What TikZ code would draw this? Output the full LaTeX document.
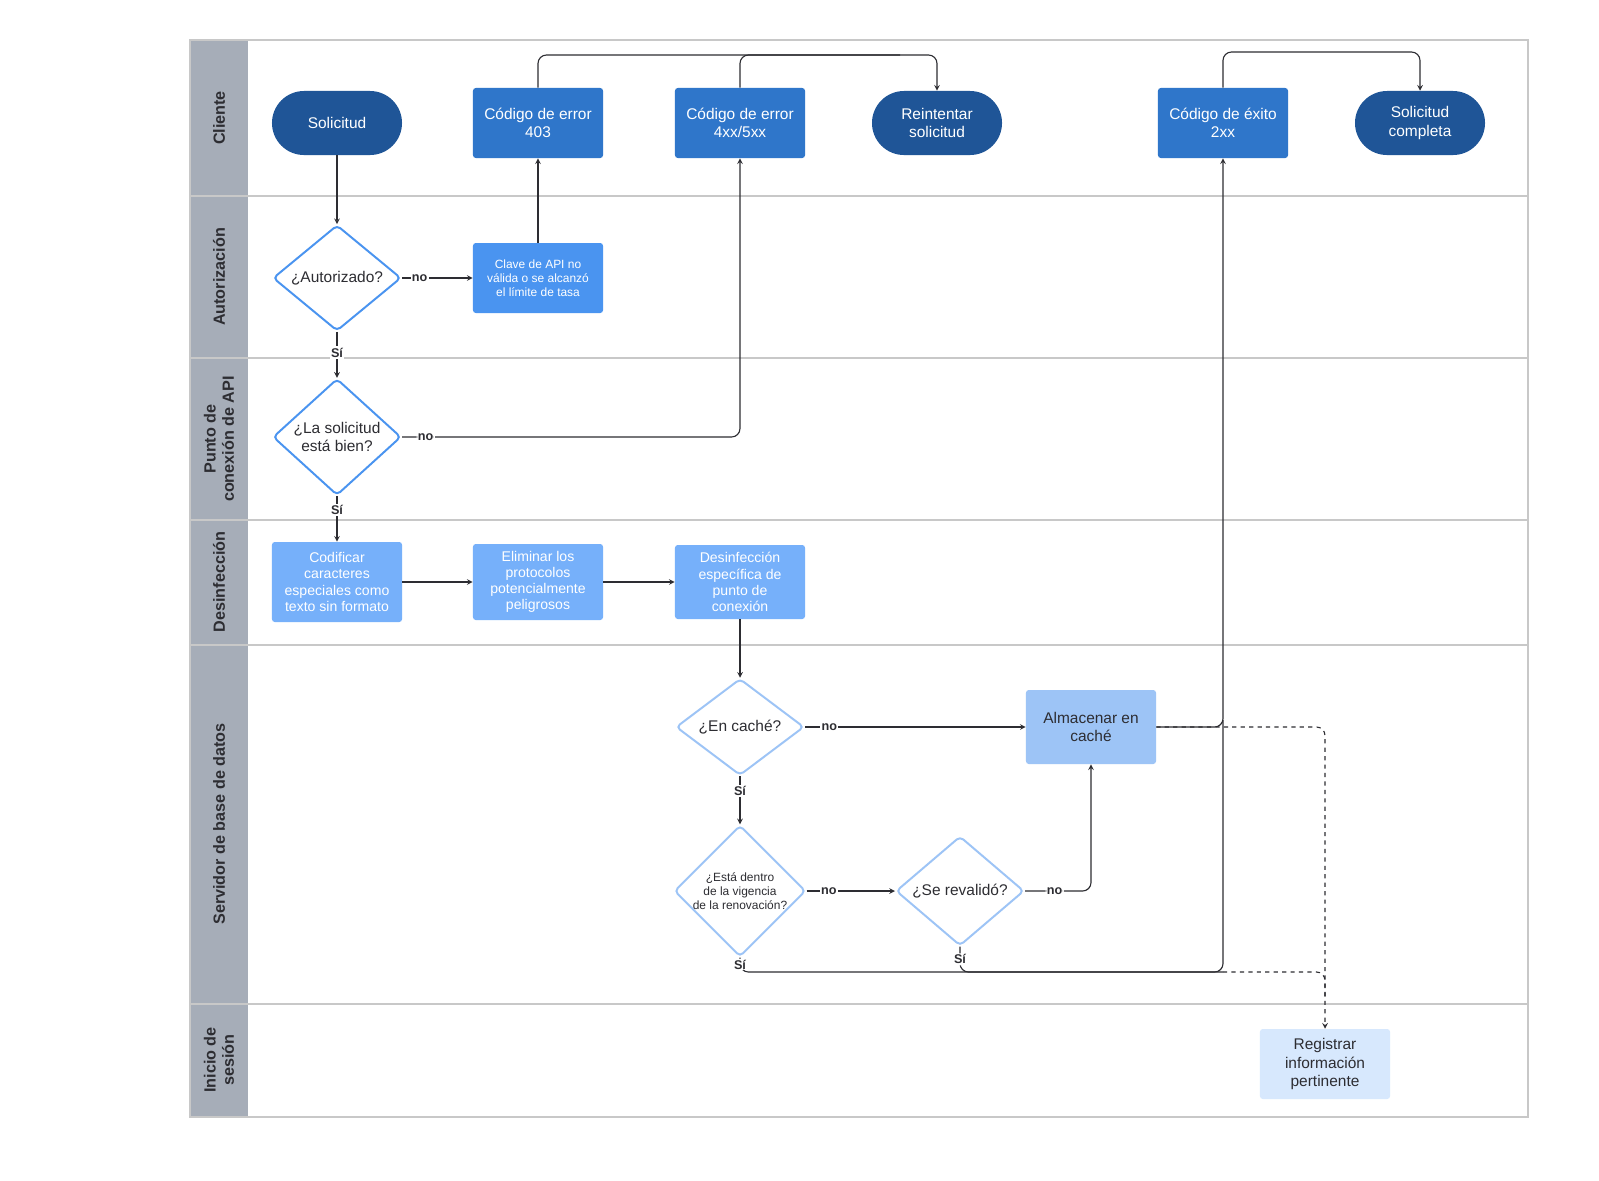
\documentclass[tikz,border=0pt]{standalone}
\usepackage{fontspec}
\setmainfont{Liberation Sans}
\usetikzlibrary{shapes.geometric, arrows, positioning}
\definecolor{apidark}{RGB}{31, 85, 151}
\definecolor{apimid}{RGB}{47, 118, 202}
\definecolor{apiblue}{RGB}{74, 148, 240}
\definecolor{apilight}{RGB}{118, 176, 250}
\definecolor{apipale}{RGB}{215, 232, 253}
\definecolor{apiedge}{RGB}{157, 196, 246}
\definecolor{apigray}{RGB}{166, 173, 184}
\definecolor{apiline}{RGB}{200, 200, 200}
\definecolor{apitext}{RGB}{45, 45, 50}

\begin{document}
\begin{tikzpicture}[
    x=0.025cm, y=-0.025cm,
    >=stealth,
    pill/.style={
        rectangle,
        rounded corners=0.8cm,
        fill=apidark,
        text=white,
        minimum width=3.25cm,
        minimum height=1.6cm,
        align=center,
        font=\fontsize{11}{13}\selectfont
    },
    box/.style={
        rectangle,
        rounded corners=2pt,
        fill=apimid,
        text=white,
        minimum width=3.25cm,
        minimum height=1.75cm,
        align=center,
        font=\fontsize{11}{13}\selectfont
    },
    cleanbox/.style={
        box,
        fill=apilight,
        minimum height=1.9cm,
        font=\fontsize{10}{11.5}\selectfont
    },
    check/.style={
        diamond,
        draw=apiblue,
        line width=1.4pt,
        rounded corners=3pt,
        fill=white,
        text=apitext,
        minimum width=3.2cm,
        minimum height=2.4cm,
        inner sep=0pt,
        align=center,
        font=\fontsize{11}{13}\selectfont
    },
    arrow/.style={
        ->,
        thick,
        apitext
    },
    lbl/.style={
        font=\fontsize{9}{10}\selectfont\bfseries,
        text=apitext,
        fill=white,
        inner sep=1pt
    },
    lane/.style={
        rotate=90,
        font=\fontsize{11.5}{13}\selectfont\bfseries,
        text=apitext,
        align=center
    }
]

% Background and swimlanes
\useasboundingbox (0,0) rectangle (1599,1180);
\fill[white] (0,0) rectangle (1599,1180);
\fill[apigray] (190,40) rectangle (248,1117);
\draw[apiline, thick] (190,40) rectangle (1528,1117);
\foreach \y in {196,358,520,645,1004}
    \draw[apiline, thick] (190,\y) -- (1528,\y);

% Lane titles
\node[lane] at (219,118) {Cliente};
\node[lane] at (219,277) {Autorización};
\node[lane] at (219,439) {Punto de\\conexión de API};
\node[lane] at (219,582) {Desinfección};
\node[lane] at (219,824) {Servidor de base de datos};
\node[lane] at (219,1060) {Inicio de\\sesión};

% Client
\node[pill] (request) at (337,123) {Solicitud};
\node[box] (err403) at (538,123) {Código de error\\403};
\node[box] (err4xx) at (740,123) {Código de error\\4xx/5xx};
\node[pill] (retry) at (937,123) {Reintentar\\solicitud};
\node[box] (ok2xx) at (1223,123) {Código de éxito\\2xx};
\node[pill] (done) at (1420,123) {Solicitud\\completa};

% Authorization
\node[check] (auth) at (337,278) {¿Autorizado?};
\node[box, fill=apiblue, font=\fontsize{8.5}{10}\selectfont] (badkey) at (538,278) {Clave de API no\\válida o se alcanzó\\el límite de tasa};

% Endpoint
\node[check] (valid) at (337,437) {¿La solicitud\\está bien?};

% Sanitizing
\node[cleanbox, minimum height=2cm] (encode) at (337,582) {Codificar\\caracteres\\especiales como\\texto sin formato};
\node[cleanbox] (strip) at (538,582) {Eliminar los\\protocolos\\potencialmente\\peligrosos};
\node[cleanbox, minimum height=1.85cm] (endpoint) at (740,582) {Desinfección\\específica de\\punto de\\conexión};

% Database server
\node[check, draw=apiedge] (cached) at (740,727) {¿En caché?};
\node[box, fill=apiedge, text=apitext, minimum height=1.85cm] (store) at (1091,727) {Almacenar en\\caché};
\node[check, draw=apiedge, font=\fontsize{8.5}{10}\selectfont] (fresh) at (740,891) {¿Está dentro\\de la vigencia\\de la renovación?};
\node[check, draw=apiedge] (reval) at (960,891) {¿Se revalidó?};

% Logging
\node[box, fill=apipale, text=apitext] (logit) at (1325,1064) {Registrar\\información\\pertinente};

% Arrows
\draw[arrow] (request) -- (auth);
\draw[arrow] (auth) -- node[lbl, pos=0.25] {no} (badkey);
\draw[arrow] (badkey) -- (err403);
\draw[arrow, rounded corners=6pt] (err403.north) |- (937,55) -- (retry.north);
\draw[thick, apitext, rounded corners=6pt] (err4xx.north) |- (900,55);
\draw[arrow] (auth) -- node[lbl, pos=0.45] {Sí} (valid);
\draw[arrow, rounded corners=6pt] (valid.east) -- node[lbl, pos=0.07] {no} (740,437) -- (err4xx.south);
\draw[arrow] (valid) -- node[lbl, pos=0.3] {Sí} (encode);
\draw[arrow] (encode) -- (strip);
\draw[arrow] (strip) -- (endpoint);
\draw[arrow] (endpoint) -- (cached);
\draw[arrow] (cached) -- node[lbl, pos=0.11] {no} (store);
\draw[arrow] (cached) -- node[lbl, pos=0.3] {Sí} (fresh);
\draw[arrow] (fresh) -- node[lbl, pos=0.25] {no} (reval);
\draw[arrow, rounded corners=6pt] (reval.east) -- node[lbl, pos=0.45] {no} (1091,891) -- (store.south);
\draw[arrow, rounded corners=6pt] (store.east) -- (1223,727) -- (ok2xx.south);
\draw[arrow, rounded corners=6pt] (ok2xx.north) |- (1420,52) -- (done.north);
\draw[thick, apitext, rounded corners=6pt] (fresh.south) -- node[lbl, pos=0.5] {Sí} (740,972) -- (1223,972) -- (1223,720);
\draw[thick, apitext, rounded corners=6pt] (reval.south) -- node[lbl, pos=0.5] {Sí} (960,972) -- (1223,972);
\draw[arrow, dashed, rounded corners=6pt] (store.east) -- (1325,727) -- (logit.north);
\draw[thick, dashed, apitext, rounded corners=6pt] (1223,972) -- (1325,972) -- (1325,1000);

\end{tikzpicture}
\end{document}
